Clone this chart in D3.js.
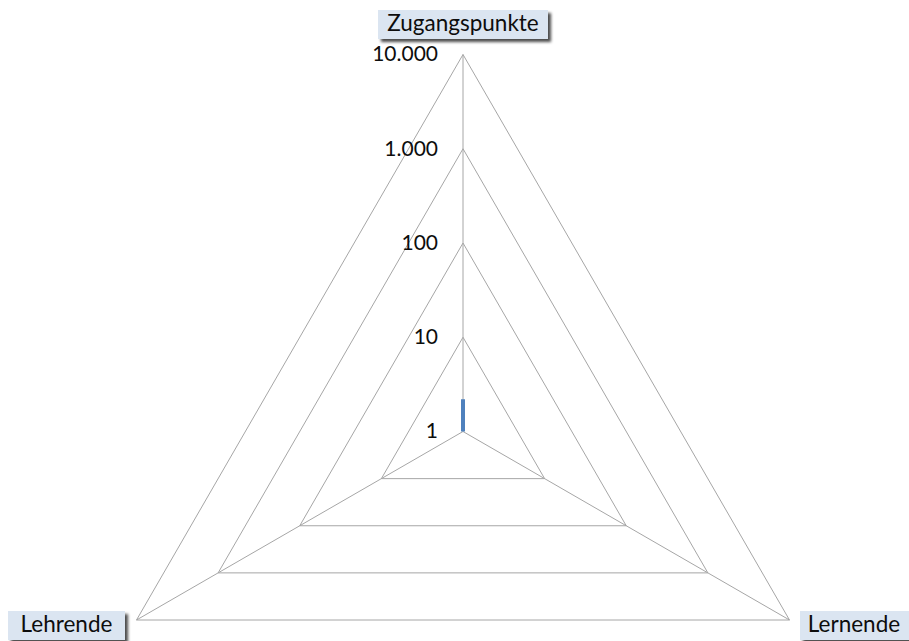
<!DOCTYPE html>
<html><head><meta charset="utf-8">
<script src="https://cdn.jsdelivr.net/npm/d3@7"></script>
<style>body{margin:0;background:#fff}svg{display:block}</style>
</head><body>
<svg id="c" width="909" height="641"></svg>
<script>
const categories = ["Zugangspunkte", "Lernende", "Lehrende"];
const values = [2.2, 1, 1];
const tickValues = [1, 10, 100, 1000, 10000];
const tickLabels = ["1", "10", "100", "1.000", "10.000"];

const svg = d3.select("#c");
const cx = 463, cy = 431.5, R = 377;
const r = d3.scaleLog().domain([1, 10000]).range([0, R]);
const angle = i => -Math.PI / 2 + i * 2 * Math.PI / categories.length;
const pt = (i, rad) => [cx + rad * Math.cos(angle(i)), cy + rad * Math.sin(angle(i))];

const defs = svg.append("defs");
const f = defs.append("filter").attr("id", "sh").attr("x", "-10%").attr("y", "-20%").attr("width", "130%").attr("height", "160%");
f.append("feDropShadow").attr("dx", 3).attr("dy", 3).attr("stdDeviation", 1.5).attr("flood-color", "#000").attr("flood-opacity", 0.7);

const grid = svg.append("g").attr("fill", "none").attr("stroke", "#a6a6a6").attr("stroke-width", 1);
tickValues.slice(1).forEach(t => {
  grid.append("path").attr("d", d3.line()(categories.map((c, i) => pt(i, r(t)))) + "Z");
});
categories.forEach((c, i) => {
  grid.append("line").attr("x1", cx).attr("y1", cy).attr("x2", pt(i, R)[0]).attr("y2", pt(i, R)[1]);
});

svg.append("g").selectAll("text").data(tickValues).join("text")
  .attr("x", cx - 25).attr("y", d => cy - r(d) + 1.5)
  .attr("text-anchor", "end").attr("dominant-baseline", "middle")
  .attr("font-family", "Lato, 'Open Sans', sans-serif").attr("font-size", 21).attr("fill", "#0d0d0d")
  .text((d, i) => tickLabels[i]);

svg.append("path")
  .attr("d", d3.line()(values.map((v, i) => pt(i, r(v)))) + "Z")
  .attr("fill", "none").attr("stroke", "#4f81bd").attr("stroke-width", 4).attr("stroke-linejoin", "miter");

const labelPos = [
  {x: 378, y: 10, w: 170},
  {x: 800, y: 611, w: 112},
  {x: 8, y: 611, w: 117}
];
categories.forEach((c, i) => {
  const p = labelPos[i];
  const g = svg.append("g");
  g.append("rect").attr("x", p.x).attr("y", p.y).attr("width", p.w).attr("height", 29)
    .attr("fill", "#dbe5f1").attr("filter", "url(#sh)");
  g.append("text").attr("x", p.x + p.w / 2 + (i === 1 ? -2 : 0)).attr("y", p.y + 15.5)
    .attr("text-anchor", "middle").attr("dominant-baseline", "middle")
    .attr("font-family", "Lato, 'Open Sans', sans-serif").attr("font-size", 22.5).attr("fill", "#0d0d0d")
    .text(c);
});
</script>
</body></html>
